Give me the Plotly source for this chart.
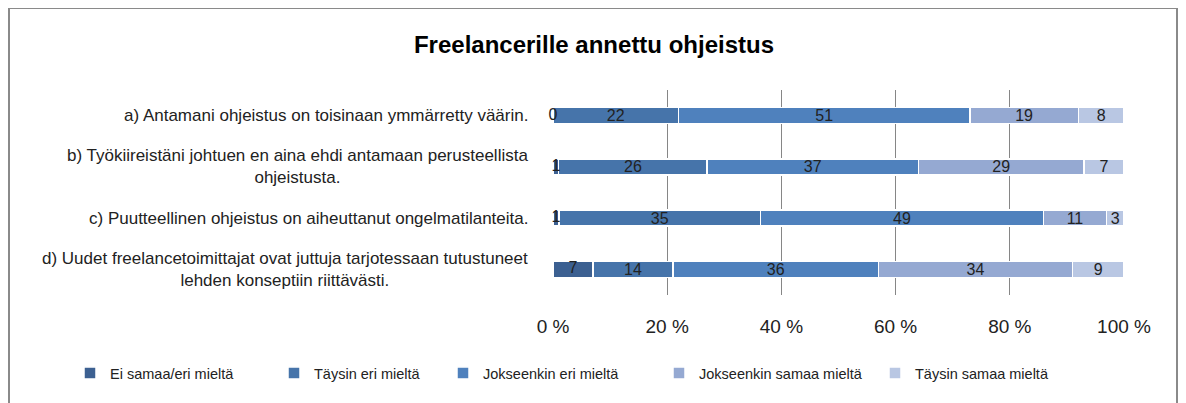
import plotly.graph_objects as go

categories = [
    "a) Antamani ohjeistus on toisinaan ymmärretty väärin.",
    "b) Työkiireistäni johtuen en aina ehdi antamaan perusteellista<br>ohjeistusta.",
    "c) Puutteellinen ohjeistus on aiheuttanut ongelmatilanteita.",
    "d) Uudet freelancetoimittajat ovat juttuja tarjotessaan tutustuneet<br>lehden konseptiin riittävästi.",
]
series_names = ["Ei samaa/eri mieltä", "Täysin eri mieltä", "Jokseenkin eri mieltä",
                "Jokseenkin samaa mieltä", "Täysin samaa mieltä"]
ei_samaa = [0, 1, 1, 7]
taysin_eri = [22, 26, 35, 14]
jokseenkin_eri = [51, 37, 49, 36]
jokseenkin_samaa = [19, 29, 11, 34]
taysin_samaa = [8, 7, 3, 9]
series_values = [ei_samaa, taysin_eri, jokseenkin_eri, jokseenkin_samaa, taysin_samaa]
colors = ["#3C6091", "#4674AA", "#4F81BD", "#95A9D2", "#B9C7E3"]
tick_vals = [0, 20, 40, 60, 80, 100]
tick_text = ["0 %", "20 %", "40 %", "60 %", "80 %", "100 %"]
title = "Freelancerille annettu ohjeistus"

FONT = "Liberation Sans"
TXT = "#222222"

# figure geometry (the page body adds an 8px offset)
W, H = 1178, 395
L, R, T, B = 545, 62, 82, 108
PW, PH = W - L - R, H - T - B


def px(fx):
    return (fx - L) / PW


def py(fy):
    return (H - B - fy) / PH


legend_text_x = [105, 309, 478, 694, 910]
legend_y = 365

fig = go.Figure()
for i, (name, vals, col) in enumerate(zip(series_names, series_values, colors)):
    lname = "legend" if i == 0 else f"legend{i + 1}"
    fig.add_trace(go.Bar(
        y=categories, x=vals, name=name, orientation="h",
        marker=dict(color=col, line=dict(color="white", width=1.5)),
        text=None if i == 0 else [str(v) for v in vals],
        texttemplate=None if i == 0 else "%{text}",
        textposition="inside", insidetextanchor="middle",
        constraintext="none", textangle=0,
        textfont=dict(family=FONT, size=16, color=TXT),
        hoverinfo="skip", legend=lname,
    ))

# labels of the first (often tiny) series, placed at the middle of its segment
row_sums = [sum(s[k] for s in series_values) for k in range(len(categories))]
fig.add_trace(go.Scatter(
    y=categories, x=[v / 2 * 100 / s for v, s in zip(ei_samaa, row_sums)],
    mode="text", text=[str(v) for v in ei_samaa], textposition="middle center",
    textfont=dict(family=FONT, size=16, color=TXT), showlegend=False, hoverinfo="skip",
    cliponaxis=False,
))

annotations = []
for c in categories:
    annotations.append(dict(
        x=px(522), xref="paper", y=c, yref="y", text=c, showarrow=False,
        xanchor="right", yanchor="middle", align="center",
        font=dict(family=FONT, size=17, color=TXT),
    ))

legends = {}
for i, tx in enumerate(legend_text_x):
    key = "legend" if i == 0 else f"legend{i + 1}"
    legends[key] = dict(
        orientation="h", x=px(tx - 43), xref="paper", xanchor="left",
        y=py(legend_y), yref="paper", yanchor="middle",
        bgcolor="rgba(0,0,0,0)", itemwidth=30,
        font=dict(family=FONT, size=14.5, color=TXT),
    )

fig.update_layout(
    width=W, height=H,
    margin=dict(l=L, r=R, t=T, b=B, autoexpand=False),
    barmode="stack", barnorm="percent", bargap=0.69,
    paper_bgcolor="white", plot_bgcolor="white",
    title=dict(text="<b>" + title + "</b>", x=586 / W, xref="container", xanchor="center",
               y=1 - 37 / H, yref="container", yanchor="middle",
               font=dict(family=FONT, size=24, color="#000000")),
    xaxis=dict(range=[0, 100], tickvals=tick_vals, ticktext=tick_text,
               showgrid=True, gridcolor="#868686", gridwidth=1,
               zeroline=False, showline=False, ticks="",
               ticklabelstandoff=18, automargin=False,
               tickfont=dict(family=FONT, size=19, color=TXT)),
    yaxis=dict(autorange="reversed", showticklabels=False, showgrid=False,
               zeroline=False, showline=False, ticks="", automargin=False),
    annotations=annotations,
    shapes=[dict(type="rect", xref="paper", yref="paper",
                 x0=px(1), x1=px(1169), y0=py(420), y1=py(0),
                 line=dict(color="#8A8A8A", width=2), fillcolor="rgba(0,0,0,0)",
                 layer="below")],
    **legends,
)

fig.write_html("out.html")
